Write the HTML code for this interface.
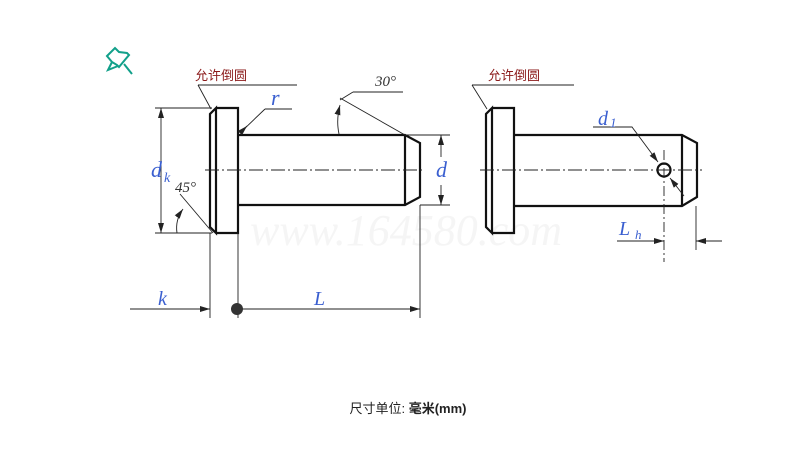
<!DOCTYPE html>
<html><head><meta charset="utf-8"><style>
html,body{margin:0;padding:0;background:#fff;width:801px;height:455px;overflow:hidden}
svg{display:block}
.t{font-family:"Liberation Serif",serif;font-style:italic;fill:#3a5fd0}
.c{font-family:"Liberation Sans","Noto Sans CJK SC",sans-serif;fill:#8b1a1a;font-size:13px}
</style></head><body>
<svg width="801" height="455" viewBox="0 0 801 455">
<defs><marker id="a" markerWidth="10" markerHeight="6" refX="10" refY="3" orient="auto-start-reverse" markerUnits="userSpaceOnUse"><path d="M0,0 L10,3 L0,6 z" fill="#222"/></marker></defs>
<!-- pin icon -->
<g stroke="#12a08a" stroke-width="2" fill="none"><path d="M107,56 L115,48 L119,52 L127,53 L129,55 L119,67 L117,65 L112,62 Z M112,62 L108,70 L118,66 M124,64 L132,74"/></g>
<text x="195" y="80" class="c">允许倒圆</text>
<text x="488" y="80" class="c">允许倒圆</text>
<text x="250" y="245" font-family="Liberation Serif,serif" font-style="italic" font-size="44" fill="#f5f5f5">www.164580.com</text>
<g stroke="#111" stroke-width="2.2" fill="none">
<path d="M216,108 H238 V233 H216 M216,108 L210,114 V227 L216,233 Z"/>
<path d="M238,135 L241,135 H405 L420,143 V197 L405,205 H241 L238,205"/>
<path d="M405,135 V205"/>
<path d="M492,108 H514 V233 H492 M492,108 L486,114 V227 L492,233 Z"/>
<path d="M514,135 L517,135 H682 L697,143 V197 L682,206 H517 L514,206"/>
<path d="M682,135 V206"/>
<circle cx="664" cy="170" r="6.5"/>
</g>
<g stroke="#222" stroke-width="0.9" fill="none">
<path d="M205,170 H425" stroke-dasharray="14,3,2,3"/>
<path d="M480,170 H702" stroke-dasharray="14,3,2,3"/>
<path d="M664,150 V262" stroke-dasharray="10,3,2,3"/>
<path d="M155,108 H212 M155,233 H212"/>
<path d="M161,108 V233" marker-start="url(#a)" marker-end="url(#a)"/>
<path d="M405,135 H450 M420,205 H450"/>
<path d="M441,157 V135" marker-end="url(#a)"/><path d="M441,185 V205" marker-end="url(#a)"/>
<path d="M198,85 H297 M198,85 L211,109"/>
<path d="M472,85 H574 M472,85 L487,109"/>
<path d="M265,109 H292 M265,109 L240,133" />
<path d="M240,133 L247,126" marker-end="url(#a)"/>
<path d="M353,92 H403 M353,92 L340,100 M340,98 L405,135"/>
<path d="M340,105 Q336,120 339,134" marker-start="url(#a)"/>
<path d="M180,194 L213,233"/>
<path d="M183,209 Q175,220 177,233" marker-start="url(#a)"/>
<path d="M210,233 V318 M238,233 V318 M420,205 V318"/>
<path d="M130,309 H210" marker-end="url(#a)"/>
<path d="M238,309 H420" marker-end="url(#a)"/>
<path d="M593,127 H632 L658,162" marker-end="url(#a)"/>
<path d="M670,178 L684,196" marker-start="url(#a)"/>
<path d="M696,206 V250"/>
<path d="M617,241 H664" marker-end="url(#a)"/>
<path d="M722,241 H696" marker-end="url(#a)"/>
</g>
<circle cx="237" cy="309" r="6" fill="#333"/>
<text x="151" y="177" class="t" font-size="22">d</text><text x="164" y="182" class="t" font-size="14">k</text>
<text x="436" y="177" class="t" font-size="22">d</text>
<text x="271" y="105" class="t" font-size="22">r</text>
<text x="375" y="86" font-family="Liberation Serif,serif" font-style="italic" font-size="15" fill="#333">30°</text>
<text x="175" y="192" font-family="Liberation Serif,serif" font-style="italic" font-size="15" fill="#333">45°</text>
<text x="158" y="305" class="t" font-size="20">k</text>
<text x="314" y="305" class="t" font-size="20">L</text>
<text x="598" y="125" class="t" font-size="20">d</text><text x="610" y="127" class="t" font-size="13">1</text>
<text x="619" y="235" class="t" font-size="20">L</text><text x="635" y="239" class="t" font-size="13">h</text>
<text x="408" y="413" text-anchor="middle" font-family="Liberation Sans,'Noto Sans CJK SC',sans-serif" font-size="13" fill="#222">尺寸单位: <tspan font-weight="bold">毫米(mm)</tspan></text>
</svg>
</body></html>
